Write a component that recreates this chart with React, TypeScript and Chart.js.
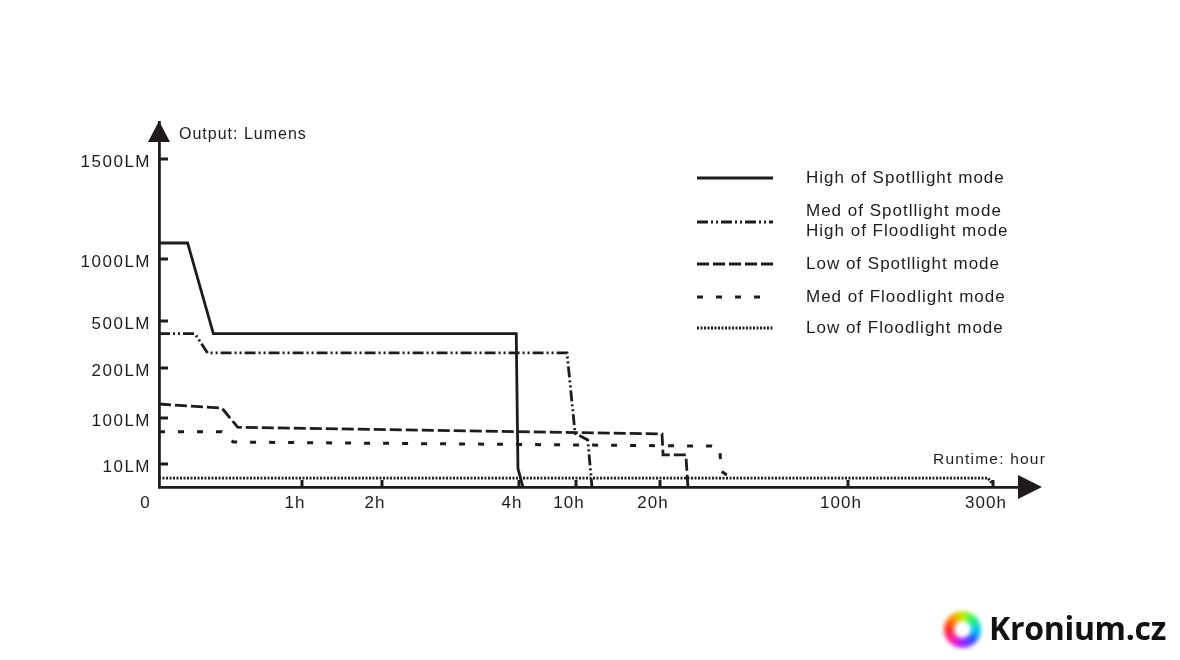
import React, { useEffect, useRef } from 'react';
import { Chart, registerables, LinearScale } from 'chart.js';

// ---------------- data ----------------
const xTickHours = [1, 2, 4, 10, 20, 100, 300];
const xTickLabels = ['1h', '2h', '4h', '10h', '20h', '100h', '300h'];
const yTickLumens = [10, 100, 200, 500, 1000, 1500];
const yTickLabels = ['10LM', '100LM', '200LM', '500LM', '1000LM', '1500LM'];

const seriesLabels = [
  'High of Spotllight mode',
  'Med of Spotllight mode\nHigh of Floodlight mode',
  'Low of Spotllight mode',
  'Med of Floodlight mode',
  'Low of Floodlight mode',
];

const highSpotHours = [0, 0.2, 0.38, 3.96, 3.985, 4.42];
const highSpotLumens = [1080, 1080, 420, 420, 8, 0];
const medSpotHours = [0, 0.25, 0.34, 9.05, 9.9, 11.4, 11.9];
const medSpotLumens = [420, 420, 296, 296, 70, 57, 0];
const lowSpotHours = [0, 0.44, 0.55, 20.85, 21.3, 31, 31.9];
const lowSpotLumens = [128, 120, 82, 69, 28, 28, 0];
const medFloodHours = [0, 0.44, 0.52, 42.1, 45.5, 45.9, 51];
const medFloodLumens = [73, 73, 53, 45, 41, 7, 3.5];
const lowFloodHours = [0, 293, 298.6];
const lowFloodLumens = [3.9, 3.9, 1.7];

// ---------------- axis layout (non-uniform hand-drawn axes) ----------------
const X_AXIS = {
  values: [0, 1, 2, 4, 10, 20, 100, 300, 360],
  fracs: [0, 0.1642, 0.256, 0.4133, 0.4788, 0.5752, 0.791, 0.9575, 1],
};
const Y_AXIS = {
  values: [0, 10, 100, 200, 500, 1000, 1500, 1700],
  fracs: [0, 0.063, 0.189, 0.326, 0.4548, 0.6247, 0.8986, 1],
};

const INK = '#1f1b1c';
const FONT = "'Liberation Sans', Arial, Helvetica, sans-serif";

function interp(v: number, xs: number[], ys: number[]) {
  if (v <= xs[0]) return ys[0] + (v - xs[0]) * (ys[1] - ys[0]) / (xs[1] - xs[0]);
  for (let i = 1; i < xs.length; i++) {
    if (v <= xs[i]) {
      const t = (v - xs[i - 1]) / (xs[i] - xs[i - 1]);
      return ys[i - 1] + t * (ys[i] - ys[i - 1]);
    }
  }
  const n = xs.length - 1;
  return ys[n] + (v - xs[n]) * (ys[n] - ys[n - 1]) / (xs[n] - xs[n - 1]);
}

class PiecewiseScale extends LinearScale {
  static id = 'piecewise';
  static defaults = {};
  map() {
    return (this as any).id === 'x' ? X_AXIS : Y_AXIS;
  }
  getPixelForValue(value: number) {
    const m = this.map();
    return this.getPixelForDecimal(interp(value, m.values, m.fracs));
  }
  getValueForPixel(pixel: number) {
    const m = this.map();
    return interp(this.getDecimalForPixel(pixel), m.fracs, m.values);
  }
  drawLabels(area: any) {
    const ctx = (this as any).ctx;
    const prev = ctx.letterSpacing;
    ctx.letterSpacing = (this as any).id === 'y' ? '1.5px' : '1px';
    // @ts-ignore
    super.drawLabels(area);
    ctx.letterSpacing = prev;
  }
}

Chart.register(...registerables, PiecewiseScale as any);

function pts(xs: number[], ys: number[]) {
  return xs.map((x, i) => ({ x, y: ys[i] }));
}

const LEGEND_ROWS = [178, 222, 264, 297, 328];

const decor = {
  id: 'decor',
  beforeDraw(chart: any) {
    const ctx = chart.ctx;
    ctx.save();
    ctx.fillStyle = '#ffffff';
    ctx.fillRect(0, 0, chart.width, chart.height);
    ctx.restore();
  },
  afterDraw(chart: any) {
    const { ctx } = chart;
    const x = chart.scales.x;
    const y = chart.scales.y;
    const x0 = x.left;
    const y0 = y.bottom;
    ctx.save();
    ctx.fillStyle = INK;
    ctx.strokeStyle = INK;
    // y tick marks (inside)
    yTickLumens.forEach((v) => {
      const py = Math.round(y.getPixelForValue(v));
      ctx.fillRect(x0, py - 1.5, 9, 3);
    });
    // x tick marks (upwards)
    xTickHours.forEach((h) => {
      const px = Math.round(x.getPixelForValue(h));
      ctx.fillRect(px - 1.5, y0 - 7, 3, 7);
    });
    // arrows
    ctx.beginPath();
    ctx.moveTo(x0, y.top - 1);
    ctx.lineTo(x0 - 11, y.top + 20);
    ctx.lineTo(x0 + 11, y.top + 20);
    ctx.closePath();
    ctx.fill();
    ctx.beginPath();
    ctx.moveTo(x.right + 12, y0);
    ctx.lineTo(x.right - 12, y0 - 12);
    ctx.lineTo(x.right - 12, y0 + 12);
    ctx.closePath();
    ctx.fill();

    // titles
    ctx.letterSpacing = '1px';
    ctx.textBaseline = 'middle';
    ctx.textAlign = 'left';
    ctx.font = `16px ${FONT}`;
    ctx.fillText('Output: Lumens', 179, 135);
    ctx.letterSpacing = '1.2px';
    ctx.font = `15.5px ${FONT}`;
    ctx.textAlign = 'right';
    ctx.fillText('Runtime: hour', 1046, 460);
    ctx.letterSpacing = '0px';
    ctx.font = `17px ${FONT}`;
    ctx.textAlign = 'center';
    ctx.fillText('0', 145, 503);

    // legend
    ctx.textAlign = 'left';
    ctx.font = `17px ${FONT}`;
    ctx.letterSpacing = '1px';
    chart.data.datasets.forEach((ds: any, i: number) => {
      const yy = LEGEND_ROWS[i];
      ctx.save();
      ctx.lineWidth = ds.borderWidth;
      ctx.setLineDash(ds.borderDash || []);
      ctx.beginPath();
      ctx.moveTo(697, yy);
      ctx.lineTo(773, yy);
      ctx.stroke();
      ctx.restore();
      const lines = String(ds.label).split('\n');
      lines.forEach((t, k) => {
        ctx.fillText(t, 806, yy + (k - (lines.length - 1) / 2) * 19.5 - (lines.length > 1 ? 0.5 : 0));
      });
    });
    ctx.restore();
  },
};

export default function App() {
  const ref = useRef<HTMLCanvasElement | null>(null);
  useEffect(() => {
    if (!ref.current) return;
    const common = {
      borderColor: INK,
      backgroundColor: INK,
      pointRadius: 0,
      tension: 0,
      fill: false,
      clip: false as any,
      borderJoinStyle: 'miter' as const,
    };
    const chart = new Chart(ref.current, {
      type: 'line',
      data: {
        datasets: [
          { ...common, label: seriesLabels[0], data: pts(highSpotHours, highSpotLumens), borderWidth: 2.8, borderDash: [] },
          { ...common, label: seriesLabels[1], data: pts(medSpotHours, medSpotLumens), borderWidth: 2.8, borderDash: [11, 3, 2, 3, 2, 3] },
          { ...common, label: seriesLabels[2], data: pts(lowSpotHours, lowSpotLumens), borderWidth: 2.8, borderDash: [12, 4] },
          { ...common, label: seriesLabels[3], data: pts(medFloodHours, medFloodLumens), borderWidth: 3, borderDash: [6, 13] },
          { ...common, label: seriesLabels[4], data: pts(lowFloodHours, lowFloodLumens), borderWidth: 2.8, borderDash: [2, 1.5] },
        ] as any,
      },
      options: {
        responsive: false,
        animation: false,
        devicePixelRatio: 1,
        layout: { padding: { left: 0, top: 122, right: 150, bottom: 0 } },
        plugins: { legend: { display: false }, tooltip: { enabled: false }, title: { display: false } },
        scales: {
          x: {
            type: 'piecewise' as any,
            min: 0,
            max: 360,
            grid: { display: false, drawTicks: false },
            border: { display: true, color: INK, width: 2.8 },
            afterFit: (s: any) => { s.height = 173; },
            afterBuildTicks: (s: any) => { s.ticks = xTickHours.map((v) => ({ value: v })); },
            ticks: {
              autoSkip: false,
              maxRotation: 0,
              padding: 6,
              labelOffset: -7,
              color: INK,
              font: { family: FONT, size: 17 },
              callback: (_v: any, i: number) => xTickLabels[i],
            },
          } as any,
          y: {
            type: 'piecewise' as any,
            min: 0,
            max: 1700,
            grid: { display: false, drawTicks: false },
            border: { display: true, color: INK, width: 2.8 },
            afterFit: (s: any) => { s.width = 159; },
            afterBuildTicks: (s: any) => { s.ticks = yTickLumens.map((v) => ({ value: v })); },
            ticks: {
              autoSkip: false,
              padding: 8,
              labelOffset: 3,
              color: INK,
              font: { family: FONT, size: 17 },
              callback: (_v: any, i: number) => yTickLabels[i],
            },
          } as any,
        },
      },
      plugins: [decor],
    });
    return () => chart.destroy();
  }, []);

  return (
    <div style={{ position: 'fixed', left: 0, top: 0, width: 1180, height: 660, background: '#fff', overflow: 'hidden' }}>
      <canvas ref={ref} width={1180} height={660} style={{ display: 'block', width: 1180, height: 660 }} />
      <div
        style={{
          position: 'absolute', left: 944, top: 611, width: 37, height: 37, borderRadius: '50%',
          background: 'conic-gradient(#c8f000 0deg, #20f080 50deg, #00c8ff 95deg, #3050ff 135deg, #a020ff 180deg, #ff20b0 225deg, #ff2a2a 270deg, #ff8a00 315deg, #c8f000 360deg)',
          filter: 'blur(2px)',
        }}
      >
        <div style={{ position: 'absolute', left: 10, top: 10, width: 17, height: 17, borderRadius: '50%', background: '#fff' }} />
      </div>
      <div
        style={{
          position: 'absolute', left: 989, top: 605, fontFamily: "'Open Sans', sans-serif", fontWeight: 700,
          fontSize: 32, color: '#111', letterSpacing: '-0.3px', lineHeight: '46px', whiteSpace: 'nowrap',
        }}
      >
        Kronium.cz
      </div>
    </div>
  );
}
